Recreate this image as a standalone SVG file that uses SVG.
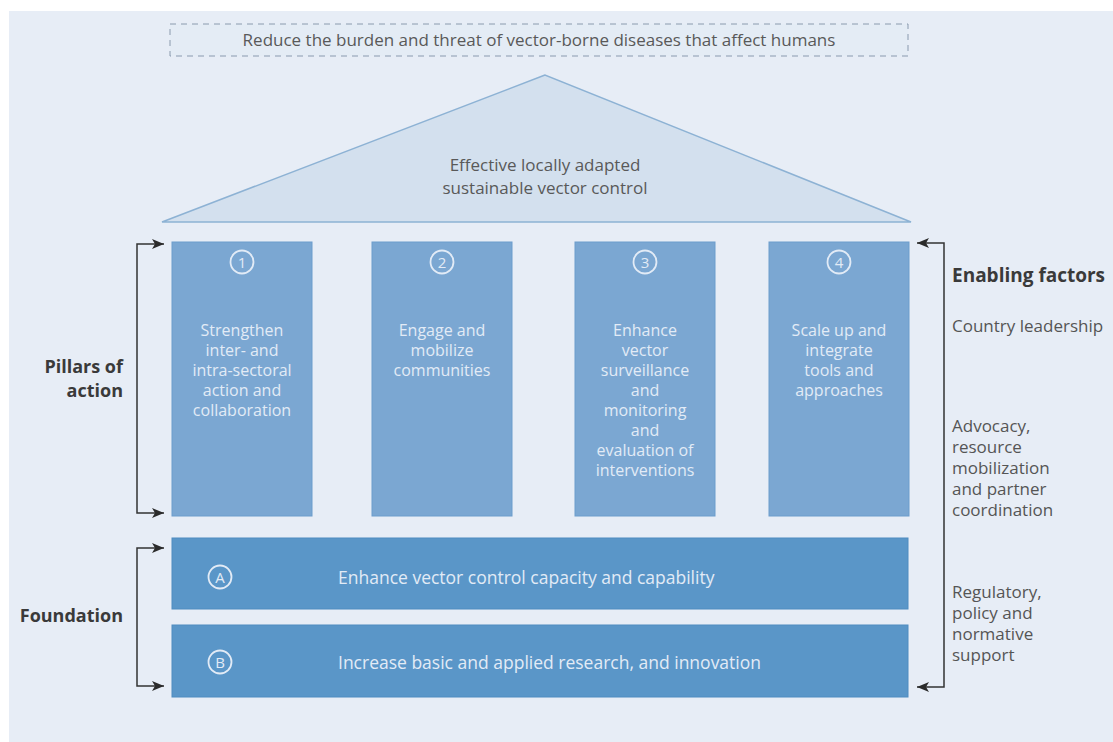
<svg xmlns="http://www.w3.org/2000/svg" width="1113" height="742" viewBox="0 0 1113 742">
<defs>
<marker id="ah" viewBox="0 0 12 10" refX="12" refY="5" markerWidth="13" markerHeight="10" markerUnits="userSpaceOnUse" orient="auto-start-reverse">
<path d="M0,0 L12,5 L0,10 L3,5 z" fill="#2b2b2b"/>
</marker>
<style>
.t{font-family:"Open Sans","Liberation Sans",sans-serif;}
.lbl{font-size:17px;fill:#595959;}
.pil{fill:#7ba7d2;stroke:#6d9dcc;stroke-width:1;}
.fnd{fill:#5a96c8;stroke:#4f8cc0;stroke-width:1;}
.pt{font-size:16px;fill:#e2ebf6;text-anchor:middle;}
.ft{font-size:17.5px;fill:#e2ebf6;}
.num{fill:none;stroke:#e2ebf6;stroke-width:1.8;}
.nt{font-size:15px;fill:#e2ebf6;text-anchor:middle;}
.side{font-size:18px;fill:#3a3a3a;font-weight:bold;}
.ef{font-size:17px;fill:#555;}
.con{fill:none;stroke:#333;stroke-width:1.5;}
</style>
</defs>
<rect x="0" y="0" width="1113" height="742" fill="#ffffff"/>
<rect x="9" y="11" width="1104" height="731" fill="#e7edf6"/>

<g id="goal">
<rect x="170" y="24" width="738" height="32" fill="#e4ecf5" stroke="#8a9aae" stroke-width="1" stroke-dasharray="6,5"/>
<text class="t lbl" x="539" y="46" text-anchor="middle">Reduce the burden and threat of vector-borne diseases that affect humans</text>
</g>

<g id="roof">
<polygon points="545,75 162,222 911,222" fill="#d3e0ee" stroke="#8db2d4" stroke-width="1.5"/>
<text class="t lbl" x="545" y="171" text-anchor="middle">Effective locally adapted</text>
<text class="t lbl" x="545" y="194" text-anchor="middle">sustainable vector control</text>
</g>

<g id="pillar1">
<rect class="pil" x="172" y="242" width="140" height="274"/>
<circle class="num" cx="242" cy="262" r="11.5"/>
<text class="t nt" x="242" y="267.5">1</text>
<text class="t pt" x="242" y="336">Strengthen</text>
<text class="t pt" x="242" y="356">inter- and</text>
<text class="t pt" x="242" y="376">intra-sectoral</text>
<text class="t pt" x="242" y="396">action and</text>
<text class="t pt" x="242" y="416">collaboration</text>
</g>

<g id="pillar2">
<rect class="pil" x="372" y="242" width="140" height="274"/>
<circle class="num" cx="442" cy="262" r="11.5"/>
<text class="t nt" x="442" y="267.5">2</text>
<text class="t pt" x="442" y="336">Engage and</text>
<text class="t pt" x="442" y="356">mobilize</text>
<text class="t pt" x="442" y="376">communities</text>
</g>

<g id="pillar3">
<rect class="pil" x="575" y="242" width="140" height="274"/>
<circle class="num" cx="645" cy="262" r="11.5"/>
<text class="t nt" x="645" y="267.5">3</text>
<text class="t pt" x="645" y="336">Enhance</text>
<text class="t pt" x="645" y="356">vector</text>
<text class="t pt" x="645" y="376">surveillance</text>
<text class="t pt" x="645" y="396">and</text>
<text class="t pt" x="645" y="416">monitoring</text>
<text class="t pt" x="645" y="436">and</text>
<text class="t pt" x="645" y="456">evaluation of</text>
<text class="t pt" x="645" y="476">interventions</text>
</g>

<g id="pillar4">
<rect class="pil" x="769" y="242" width="140" height="274"/>
<circle class="num" cx="839" cy="262" r="11.5"/>
<text class="t nt" x="839" y="267.5">4</text>
<text class="t pt" x="839" y="336">Scale up and</text>
<text class="t pt" x="839" y="356">integrate</text>
<text class="t pt" x="839" y="376">tools and</text>
<text class="t pt" x="839" y="396">approaches</text>
</g>

<g id="foundationA">
<rect class="fnd" x="172" y="538" width="736" height="71"/>
<circle class="num" cx="220" cy="577" r="11.5"/>
<text class="t nt" x="220" y="582.5">A</text>
<text class="t ft" x="338" y="584">Enhance vector control capacity and capability</text>
</g>

<g id="foundationB">
<rect class="fnd" x="172" y="625" width="736" height="72"/>
<circle class="num" cx="220" cy="662" r="11.5"/>
<text class="t nt" x="220" y="667.5">B</text>
<text class="t ft" x="338" y="669">Increase basic and applied research, and innovation</text>
</g>

<g id="labels">
<text class="t side" x="123" y="373" text-anchor="end">Pillars of</text>
<text class="t side" x="123" y="397" text-anchor="end">action</text>
<text class="t side" x="123" y="622" text-anchor="end">Foundation</text>
<text class="t side" x="952" y="282" style="font-size:19px">Enabling factors</text>
<text class="t ef" x="952" y="332">Country leadership</text>
<text class="t ef" x="952" y="432">Advocacy,</text>
<text class="t ef" x="952" y="453">resource</text>
<text class="t ef" x="952" y="474">mobilization</text>
<text class="t ef" x="952" y="495">and partner</text>
<text class="t ef" x="952" y="516">coordination</text>
<text class="t ef" x="952" y="598">Regulatory,</text>
<text class="t ef" x="952" y="619">policy and</text>
<text class="t ef" x="952" y="640">normative</text>
<text class="t ef" x="952" y="661">support</text>
</g>

<g id="connectors">
<path class="con" d="M164,244 H137 V513 H164" marker-start="url(#ah)" marker-end="url(#ah)"/>
<path class="con" d="M164,548 H137 V686 H164" marker-start="url(#ah)" marker-end="url(#ah)"/>
<path class="con" d="M917,243 H944 V687 H917" marker-start="url(#ah)" marker-end="url(#ah)"/>
</g>
</svg>
